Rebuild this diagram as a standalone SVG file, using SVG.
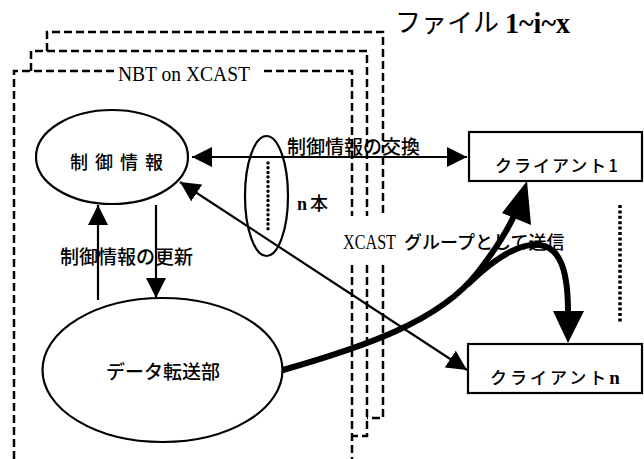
<svg xmlns="http://www.w3.org/2000/svg" width="644" height="459" viewBox="0 0 644 459">
  <style>
    .frame { fill: none; stroke: #000; stroke-width: 2.5; stroke-dasharray: 8 4; }
    .node { fill: #fff; stroke: #000; stroke-width: 2.2; }
    .conn { fill: none; stroke: #000; stroke-width: 2.2; }
    .thick { fill: none; stroke: #000; stroke-width: 6; stroke-linecap: round; }
    .jp { font-family: "Noto Sans CJK JP", "Noto Sans", sans-serif; font-weight: 500; fill: #000; }
    .lat { font-family: "Liberation Serif", "DejaVu Serif", serif; fill: #000; }
  </style>
  <defs>
    <marker id="ah" viewBox="0 0 20 20" markerUnits="userSpaceOnUse" markerWidth="20" markerHeight="20" refX="20" refY="10" orient="auto-start-reverse">
      <path d="M0,0 L20,10 L0,20 z" fill="#000"/>
    </marker>
  </defs>
  <rect width="644" height="459" fill="#fff"/>

  <g id="frames">
    <path class="frame" d="M47,51 V32 H383 V216"/>
    <path class="frame" d="M383,265 V418 H367"/>
    <path class="frame" d="M31,71 V51 H367 V216"/>
    <path class="frame" d="M367,265 V436 H352"/>
    <path class="frame" d="M14,459 V71 H114"/>
    <path class="frame" d="M264,71 H352 V216"/>
    <path class="frame" d="M352,265 V459"/>
    <text class="lat" x="118" y="81" font-size="21" textLength="132" lengthAdjust="spacingAndGlyphs">NBT on XCAST</text>
    <text class="jp" x="395" y="32" font-size="26" style="font-weight:400">ファイル</text>
    <text class="lat" x="505" y="33" font-size="29" font-weight="bold" textLength="65" lengthAdjust="spacingAndGlyphs">1~i~x</text>
  </g>

  <g id="connectors">
    <line class="conn" x1="192" y1="157" x2="467" y2="157" marker-start="url(#ah)" marker-end="url(#ah)"/>
    <line class="conn" x1="98" y1="300" x2="98" y2="205" marker-end="url(#ah)"/>
    <line class="conn" x1="156" y1="205" x2="156" y2="298" marker-end="url(#ah)"/>
    <line class="conn" x1="180" y1="182" x2="467" y2="370" marker-start="url(#ah)" marker-end="url(#ah)"/>
    <text class="jp" x="287" y="154" font-size="19">制御情報の交換</text>
    <text class="jp" x="60" y="264" font-size="19">制御情報の更新</text>
    <text class="lat" x="343" y="249" font-size="20" textLength="53" lengthAdjust="spacingAndGlyphs">XCAST</text>
    <text class="jp" x="404" y="249" font-size="18">グループとして送信</text>
    <path class="thick" d="M283,370 C360,348 440,322 478,272 C495,250 505,235 514,216"/>
    <polygon points="527,181 502,213 531,225" fill="#000"/>
    <path class="thick" d="M468,284 C495,258 520,242 540,245 C562,248 568,275 568,312"/>
    <polygon points="568,343 553,311 584,311" fill="#000"/>
  </g>

  <g id="ctrl">
    <ellipse class="node" cx="112" cy="157" rx="76" ry="47"/>
    <text class="jp" x="70" y="169" font-size="18" letter-spacing="7">制御情報</text>
  </g>

  <g id="data">
    <ellipse class="node" cx="162.5" cy="370" rx="120" ry="72"/>
    <text class="jp" x="106" y="379" font-size="19">データ転送部</text>
  </g>

  <g id="nlines">
    <ellipse class="conn" cx="266.5" cy="196" rx="21.5" ry="60"/>
    <line x1="268" y1="163" x2="268" y2="233" stroke="#000" stroke-width="3.5" stroke-linecap="round" stroke-dasharray="0 4.7"/>
    <text x="297" y="210" font-size="18"><tspan class="lat" font-weight="bold">n</tspan><tspan class="jp" dx="3">本</tspan></text>
  </g>

  <g id="client1">
    <rect class="node" x="469" y="132" width="173" height="49"/>
    <text class="jp" x="495" y="172" font-size="17" letter-spacing="2">クライアント1</text>
  </g>

  <g id="clientn">
    <rect class="node" x="468" y="344" width="174" height="49"/>
    <text x="490" y="384" font-size="17" letter-spacing="3"><tspan class="jp">クライアント</tspan><tspan class="lat" font-weight="bold" font-size="19">n</tspan></text>
  </g>

  <g id="more">
    <line x1="620" y1="205" x2="620" y2="323" stroke="#000" stroke-width="3.5" stroke-dasharray="3 2.4"/>
  </g>
</svg>
